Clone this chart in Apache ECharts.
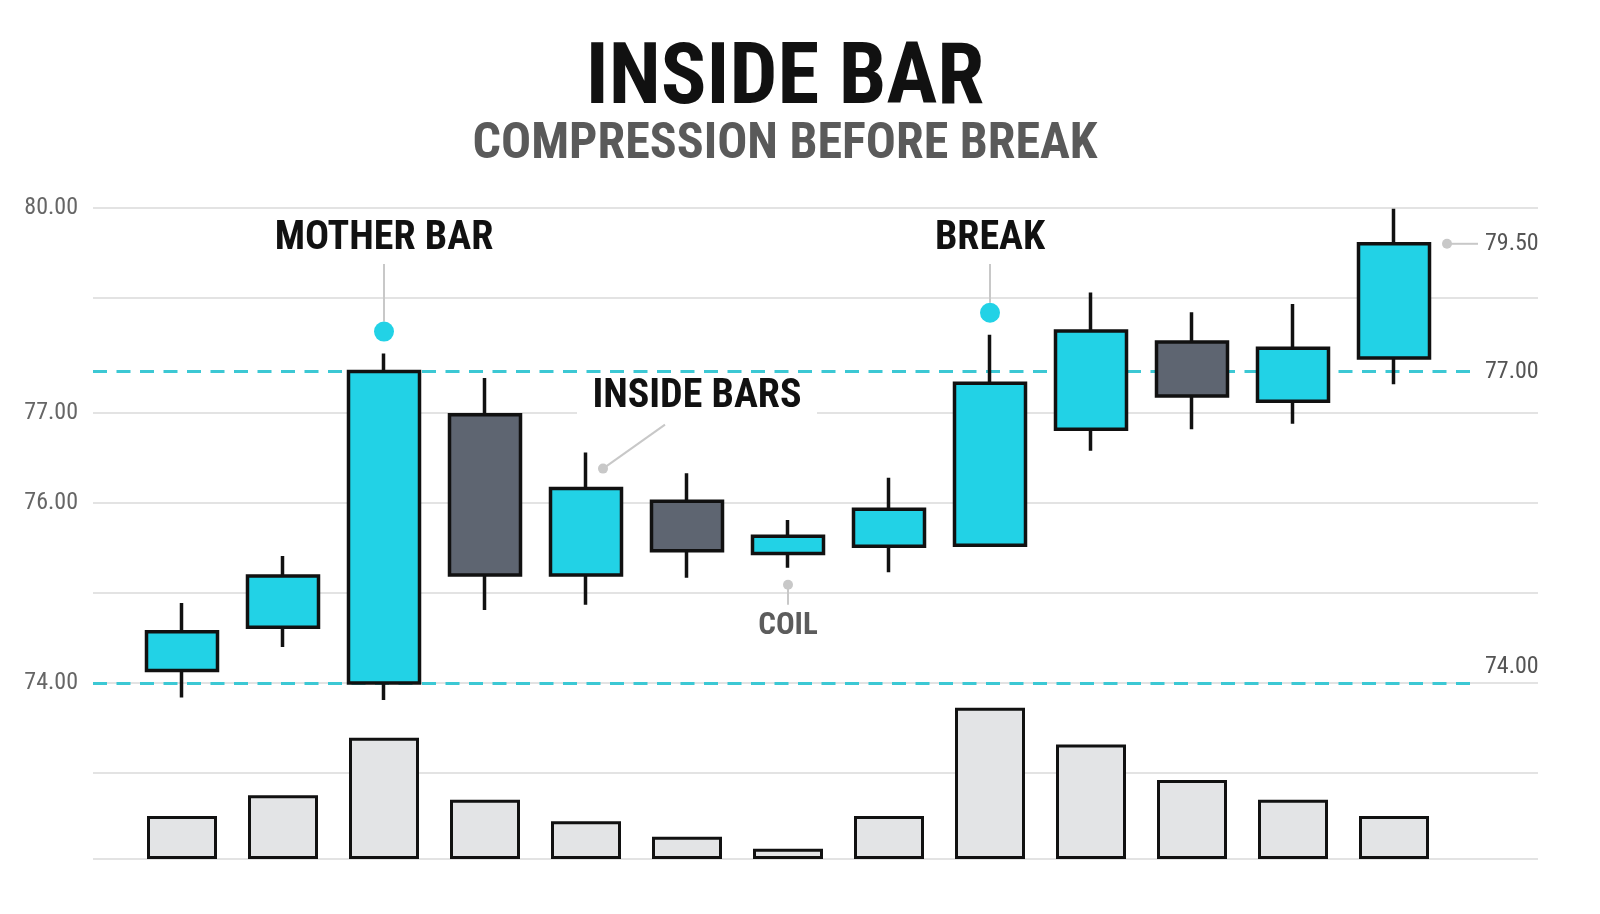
<!DOCTYPE html>
<html>
<head>
<meta charset="utf-8">
<script src="https://cdn.jsdelivr.net/npm/echarts@6/dist/echarts.min.js"></script>
<style>
html,body{margin:0;padding:0;background:#ffffff;}
#chart{width:1600px;height:914px;}
</style>
</head>
<body>
<div id="chart"></div>
<script>
// ---------- data ----------
const categories = ['B1','B2','B3','B4','B5','B6','B7','B8','B9','B10','B11','B12','B13'];
// [open, close, low, high]
const candles = [
  [74.14, 74.57, 73.84, 74.89],
  [74.62, 75.19, 74.40, 75.41],
  [74.00, 77.46, 73.81, 77.66],
  [76.98, 75.20, 74.81, 77.39],
  [75.20, 76.16, 74.87, 76.56],
  [76.02, 75.47, 75.17, 76.33],
  [75.44, 75.63, 75.28, 75.81],
  [75.52, 75.93, 75.23, 76.28],
  [75.53, 77.33, 75.53, 77.87],
  [76.82, 77.91, 76.58, 78.34],
  [77.79, 77.19, 76.82, 78.12],
  [77.13, 77.72, 76.88, 78.21],
  [77.61, 78.88, 77.32, 79.27]
];
const volumes = [50, 74, 141, 69, 44, 26, 12, 50, 176, 133, 92, 69, 50];
const priceTicks = [74, 75, 76, 77, 78.28, 79.28];
const priceTickLabels = ['74.00', '', '76.00', '77.00', '', '80.00'];
const volumeTicks = [0, 100];
const motherIndex = 2;
const levelLabels = ['77.00', '74.00'];
const annoIndex = [2, 8, 4, 6, 12];
const annoText = ['MOTHER BAR', 'BREAK', 'INSIDE BARS', 'COIL', '79.50'];
const annoKind = ['top', 'top', 'side', 'below', 'right'];

// ---------- styles ----------
const NARROW = "'Liberation Sans Narrow','Roboto Condensed','Arial Narrow','DejaVu Sans Condensed',Roboto,sans-serif";
const CYAN = '#22D2E6';
const BEAR = '#5E6571';
const INK = '#111111';
const GRID = '#DADADA';
const DASH = '#3CC8D4';
const LEAD = '#C8C8C8';

// mother bar body range (open/close)
const motherTop = Math.max(candles[motherIndex][0], candles[motherIndex][1]);
const motherBottom = Math.min(candles[motherIndex][0], candles[motherIndex][1]);

function annoValue(k) {
  const c = candles[annoIndex[k]];
  const kind = annoKind[k];
  if (kind === 'below') return c[2];
  if (kind === 'right') return c[1];
  return c[3];
}
const annoData = annoIndex.map((idx, k) => [idx, annoValue(k)]);

function textEl(x, y, text, align, font, fill) {
  return {
    type: 'text',
    style: {
      x: x, y: y, text: text, font: font, fill: fill,
      align: align, verticalAlign: 'middle',
      textAlign: align, textVerticalAlign: 'middle'
    }
  };
}

function renderAnno(params, api) {
  const k = params.dataIndex;
  const p = api.coord([api.value(0), api.value(1)]);
  const x = p[0], y = p[1];
  const kind = annoKind[k], text = annoText[k];
  const top = params.coordSys.y;
  const children = [];
  if (kind === 'top') {
    const dotY = y - 22, textY = top + 33;
    children.push({type: 'line', shape: {x1: x, y1: textY + 25, x2: x, y2: dotY - 10}, style: {stroke: LEAD, lineWidth: 2}});
    children.push({type: 'circle', shape: {cx: x, cy: dotY, r: 10}, style: {fill: CYAN}});
    children.push(textEl(x, textY, text, 'center', 'bold 40px ' + NARROW, INK));
  } else if (kind === 'side') {
    const dx = x + 17, dy = y + 16;
    const tx = x + 111, ty = y - 56;
    children.push({type: 'line', shape: {x1: dx, y1: dy, x2: dx + 62, y2: dy - 44}, style: {stroke: LEAD, lineWidth: 2}});
    children.push({type: 'circle', shape: {cx: dx, cy: dy, r: 5}, style: {fill: LEAD}});
    children.push({type: 'rect', shape: {x: tx - 120, y: ty - 22, width: 240, height: 44}, style: {fill: '#ffffff'}});
    children.push(textEl(tx, ty, text, 'center', 'bold 40px ' + NARROW, INK));
  } else if (kind === 'below') {
    const dy = y + 17;
    children.push({type: 'line', shape: {x1: x, y1: dy, x2: x, y2: dy + 20}, style: {stroke: LEAD, lineWidth: 2}});
    children.push({type: 'circle', shape: {cx: x, cy: dy, r: 5}, style: {fill: LEAD}});
    children.push(textEl(x, dy + 41, text, 'center', 'bold 31px ' + NARROW, '#5C5C5C'));
  } else if (kind === 'right') {
    const dx = x + 53;
    children.push({type: 'line', shape: {x1: dx, y1: y, x2: dx + 31, y2: y}, style: {stroke: LEAD, lineWidth: 2}});
    children.push({type: 'circle', shape: {cx: dx, cy: y, r: 5}, style: {fill: LEAD}});
    children.push(textEl(dx + 38, y, text, 'left', '24px ' + NARROW, '#555555'));
  }
  return {type: 'group', children: children};
}

const chart = echarts.init(document.getElementById('chart'), null, {renderer: 'canvas'});

const option = {
  backgroundColor: '#ffffff',
  animation: false,
  title: [
    {
      text: 'INSIDE BAR', left: 785, top: 39, textAlign: 'center', padding: 0,
      textStyle: {fontSize: 85, fontWeight: 'bold', color: INK, fontFamily: NARROW, lineHeight: 86}
    },
    {
      text: 'COMPRESSION BEFORE BREAK', left: 785, top: 119, textAlign: 'center', padding: 0,
      textStyle: {fontSize: 50, fontWeight: 'bold', color: '#5A5A5A', fontFamily: NARROW, lineHeight: 52}
    }
  ],
  grid: [
    {left: 93, right: 62, top: 206, bottom: 231},
    {left: 131.5, right: 155.5, top: 206, bottom: 231},
    {left: 93, right: 62, top: 687, bottom: 55},
    {left: 131.5, right: 155.5, top: 687, bottom: 55}
  ],
  xAxis: [
    {gridIndex: 0, type: 'value', min: 0, max: 1, show: false},
    {gridIndex: 1, type: 'category', data: categories, show: false},
    {gridIndex: 2, type: 'value', min: 0, max: 1, show: false},
    {gridIndex: 3, type: 'category', data: categories, show: false}
  ],
  yAxis: [
    {
      gridIndex: 0, type: 'value', min: 74, max: 79.3,
      axisLine: {show: false},
      axisTick: {show: false, customValues: priceTicks},
      splitLine: {show: true, lineStyle: {color: GRID, width: 1.5}},
      axisLabel: {
        customValues: priceTicks.filter((v, i) => priceTickLabels[i] !== ''),
        formatter: function (v) {
          let best = 0, d = Infinity;
          priceTicks.forEach((t, i) => { if (Math.abs(t - v) < d) { d = Math.abs(t - v); best = i; } });
          return priceTickLabels[best];
        },
        color: '#666666', fontSize: 24, fontFamily: NARROW, margin: 15
      }
    },
    {gridIndex: 1, type: 'value', min: 74, max: 79.3, show: false},
    {
      gridIndex: 2, type: 'value', min: 0, max: 200,
      axisLine: {show: false},
      axisTick: {show: false, customValues: volumeTicks},
      splitLine: {show: true, lineStyle: {color: GRID, width: 1.5}},
      axisLabel: {show: false}
    },
    {gridIndex: 3, type: 'value', min: 0, max: 200, show: false}
  ],
  series: [
    {
      type: 'candlestick',
      name: 'Price',
      xAxisIndex: 1, yAxisIndex: 1,
      data: candles,
      barWidth: 71,
      clip: false,
      z: 4,
      itemStyle: {
        color: CYAN, color0: BEAR,
        borderColor: INK, borderColor0: INK, borderColorDoji: INK,
        borderWidth: 3.5
      },
      emphasis: {disabled: true},
      markLine: {
        silent: true,
        z: 1,
        symbol: ['none', 'none'],
        lineStyle: {color: DASH, width: 3, type: [14, 9.5]},
        label: {show: true, position: 'end', distance: 7, color: '#555555', fontSize: 24, fontFamily: NARROW},
        data: [
          [{x: 93, yAxis: motherTop, label: {formatter: levelLabels[0]}}, {x: 1478, yAxis: motherTop}],
          [{x: 93, yAxis: motherBottom, label: {formatter: levelLabels[1], verticalAlign: 'bottom', padding: [0, 0, 4, 0]}}, {x: 1478, yAxis: motherBottom}]
        ]
      }
    },
    {
      type: 'bar',
      name: 'Volume',
      xAxisIndex: 3, yAxisIndex: 3,
      data: volumes,
      barWidth: 70,
      itemStyle: {color: '#E3E4E6', borderColor: INK, borderWidth: 3},
      emphasis: {disabled: true}
    },
    {
      type: 'custom',
      name: 'Notes',
      xAxisIndex: 1, yAxisIndex: 1,
      data: annoData,
      renderItem: renderAnno,
      silent: true,
      z: 5
    }
  ]
};
chart.setOption(option);
</script>
</body>
</html>
